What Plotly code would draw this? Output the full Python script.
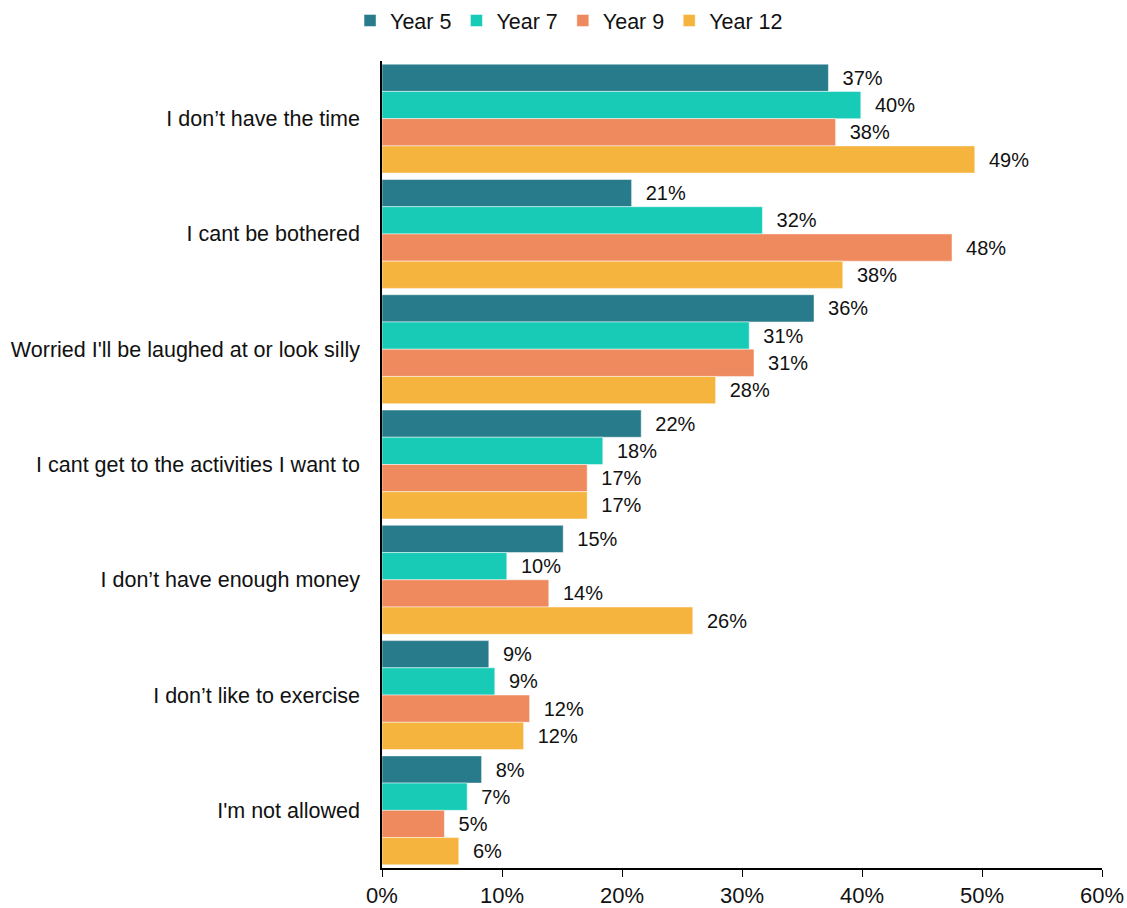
import plotly.graph_objects as go

# Survey reasons, listed top to bottom
categories = [
    "I don\u2019t have the time",
    "I cant be bothered",
    "Worried I'll be laughed at or look silly",
    "I cant get to the activities I want to",
    "I don\u2019t have enough money",
    "I don\u2019t like to exercise",
    "I'm not allowed",
]

# Share of respondents (%) per school year
year5 = [37.2, 20.8, 36.0, 21.6, 15.1, 8.9, 8.3]
year7 = [39.9, 31.7, 30.6, 18.4, 10.4, 9.4, 7.1]
year9 = [37.8, 47.5, 31.0, 17.1, 13.9, 12.3, 5.2]
year12 = [49.4, 38.4, 27.8, 17.1, 25.9, 11.8, 6.4]

series_names = ["Year 5", "Year 7", "Year 9", "Year 12"]
series_values = [year5, year7, year9, year12]
series_colors = ["#287B8B", "#17CBB7", "#EF8A5E", "#F5B43D"]

x_ticks = [0, 10, 20, 30, 40, 50, 60]

FONT = "Liberation Sans, Arial, sans-serif"
TEXT = "#111111"

fig = go.Figure()
for name, vals, color in zip(series_names, series_values, series_colors):
    fig.add_trace(go.Bar(
        name=name,
        y=categories,
        x=vals,
        orientation="h",
        marker=dict(color=color, line=dict(color="rgba(255,255,255,0.6)", width=0.8)),
        text=[f"\u00a0\u00a0{round(v):.0f}%" for v in vals],
        textposition="outside",
        textfont=dict(family=FONT, size=20, color=TEXT),
        cliponaxis=False,
        hovertemplate="%{y}: %{x:.1f}%<extra>" + name + "</extra>",
    ))

fig.update_layout(
    width=1127,
    height=908,
    barmode="group",
    bargap=0.055,
    bargroupgap=0,
    plot_bgcolor="white",
    paper_bgcolor="white",
    margin=dict(l=382, r=25, t=61, b=40),
    font=dict(family=FONT, size=21, color=TEXT),
    legend=dict(
        orientation="h",
        x=-0.0444,
        xanchor="left",
        y=1.0,
        yanchor="top",
        yref="container",
        font=dict(family=FONT, size=21.5, color=TEXT),
        itemwidth=30,
        traceorder="normal",
    ),
)

fig.update_xaxes(
    range=[0, 60],
    tickvals=x_ticks,
    ticktext=[f"{t}%" for t in x_ticks],
    showgrid=False,
    zeroline=False,
    showline=True,
    linecolor="black",
    linewidth=1.5,
    ticks="outside",
    ticklen=7,
    tickcolor="black",
    tickfont=dict(family=FONT, size=22, color=TEXT),
    automargin=False,
)

fig.update_yaxes(
    autorange="reversed",
    showgrid=False,
    zeroline=False,
    showline=True,
    linecolor="black",
    linewidth=1.5,
    ticks="",
    ticklabelstandoff=16,
    tickfont=dict(family=FONT, size=21.5, color=TEXT),
    automargin=False,
)

fig.write_html("out.html")
